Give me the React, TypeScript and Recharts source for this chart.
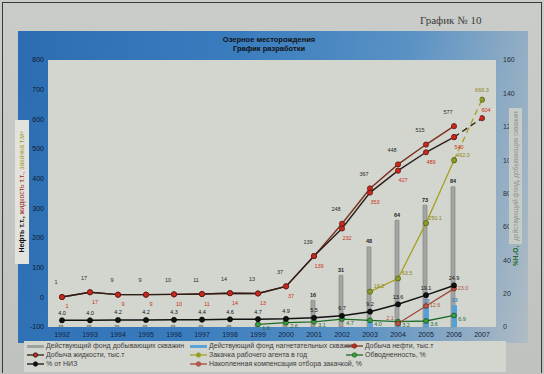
import {
  ComposedChart,
  Bar,
  Line,
  XAxis,
  YAxis,
  CartesianGrid,
  LabelList,
} from "recharts"

const years = ["1992", "1993", "1994", "1995", "1996", "1997", "1998", "1999", "2000", "2001", "2002", "2003", "2004", "2005", "2006", "2007"]
const prodWells = [1, 1, 1, 1, 1, 1, 1, 2, 4, 16, 31, 48, 64, 73, 84, null]
const injWells = [null, null, null, null, null, null, null, null, null, null, null, 3, 4, 12, 13, null]
const liquid = [1, 17, 9, 9, 10, 11, 14, 13, 37, 139, 248, 367, 448, 515, 577, null]
const oil = [1, 17, 9, 9, 10, 11, 14, 13, 37, 139, 232, 353, 427, 489, 540, null]
const oilPlan = [null, null, null, null, null, null, null, null, null, null, null, null, null, null, 540, 604]
const injection = [null, null, null, null, null, null, null, null, null, null, null, 19.2, 63.5, 250.1, 462.0, null]
const injectionPlan = [null, null, null, null, null, null, null, null, null, null, null, null, null, null, 462.0, 666.3]
const waterCut = [null, null, null, null, null, null, null, 1.6, 2.6, 3.1, 4.7, 4.0, 3.2, 3.6, 6.9, null]
const recovery = [4.0, 4.0, 4.2, 4.2, 4.3, 4.4, 4.6, 4.7, 4.9, 5.5, 6.7, 9.2, 13.6, 19.1, 24.9, null]
const compensation = [null, null, null, null, null, null, null, null, null, null, null, null, 2.1, 12.6, 23.0, null]

const leftTicks = [-100, 0, 100, 200, 300, 400, 500, 600, 700, 800]
const rightTicks = [0, 20, 40, 60, 80, 100, 120, 140, 160]

const data = years.map((year, i) => ({
  year,
  prodWells: prodWells[i],
  injWells: injWells[i],
  liquid: liquid[i],
  oil: oil[i],
  oilPlan: oilPlan[i],
  injection: injection[i],
  injectionPlan: injectionPlan[i],
  waterCut: waterCut[i],
  recovery: recovery[i],
  compensation: compensation[i],
}))

const font = "'Liberation Sans', Arial, sans-serif"

// small text label next to a point
function pointLabel(color: string, dx: number, dy: number, digits?: number, bold?: boolean) {
  return (p: any) => {
    if (p.value == null) return null
    const v = digits != null ? Number(p.value).toFixed(digits) : p.value
    return (
      <text x={p.x + dx} y={p.y + dy} fill={color} fontSize={5.5} fontFamily={font}
        fontWeight={bold ? "bold" : "normal"} textAnchor="middle" dominantBaseline="middle">
        {v}
      </text>
    )
  }
}

function barLabel(color: string, min: number) {
  return (p: any) => {
    if (p.value == null || p.value < min) return null
    return (
      <text x={p.x + p.width / 2} y={p.y - 5} fill={color} fontSize={5.5} fontFamily={font}
        fontWeight="bold" textAnchor="middle" dominantBaseline="middle">
        {p.value}
      </text>
    )
  }
}

function LegendLine({ color, dot }: { color: string; dot: string }) {
  return (
    <svg width={17} height={6} style={{ display: "inline-block", verticalAlign: "middle" }}>
      <line x1={0} y1={3} x2={17} y2={3} stroke={color} strokeWidth={1.3} />
      <circle cx={8.5} cy={3} r={2.2} fill={dot} stroke={color} strokeWidth={0.8} />
    </svg>
  )
}

function LegendBar({ color }: { color: string }) {
  return (
    <span style={{ display: "inline-block", width: 17, height: 3, background: color, verticalAlign: "middle" }} />
  )
}

const legendRows = [
  [
    { x: 27, y: 346, text: "Действующий фонд добывающих скважин", icon: <LegendBar color="#9ea29e" /> },
    { x: 190, y: 346, text: "Действующий фонд нагнетательных скважин", icon: <LegendBar color="#5aa2d8" /> },
    { x: 346, y: 346, text: "Добыча нефти, тыс.т", icon: <LegendLine color="#7a3020" dot="#c8281e" /> },
  ],
  [
    { x: 27, y: 355, text: "Добыча жидкости, тыс.т", icon: <LegendLine color="#2a1e18" dot="#c8281e" /> },
    { x: 190, y: 355, text: "Закачка рабочего агента в год", icon: <LegendLine color="#a8a020" dot="#8a9a30" /> },
    { x: 346, y: 355, text: "Обводненность, %", icon: <LegendLine color="#1f6a2a" dot="#3aa040" /> },
  ],
  [
    { x: 27, y: 364, text: "% от НИЗ", icon: <LegendLine color="#111" dot="#111" /> },
    { x: 190, y: 364, text: "Накопленная компенсация отбора закачкой, %", icon: <LegendLine color="#a04838" dot="#c05848" /> },
  ],
]

export default function App() {
  return (
    <div style={{ position: "absolute", left: 0, top: 0, width: 544, height: 374, overflow: "hidden", background: "linear-gradient(180deg, #c9ccc8, #bfc3bf)", fontFamily: font }}>
      <div style={{ position: "absolute", left: 2, top: 2, right: 2, bottom: 1, border: "1px solid #3a3a3a", borderBottom: "none" }} />
      <div style={{ position: "absolute", left: 420, top: 14, fontFamily: "'Liberation Serif', serif", fontSize: 11, color: "#3a3a3a" }}>
        График № 10
      </div>

      {/* blue panel */}
      <div style={{ position: "absolute", left: 18, top: 31, width: 510, height: 312, background: "linear-gradient(100deg, #2c6db2 0%, #3a7dbf 40%, #5a92c4 70%, #98b0c4 92%, #b0bcc4 100%)" }} />

      <div style={{ position: "absolute", left: 0, width: 544, top: 35, textAlign: "center", fontSize: 7.5, fontWeight: "bold", color: "#111", lineHeight: "9px" }}>
        <div style={{ marginLeft: -6 }}>Озерное месторождения</div>
        <div style={{ marginLeft: -6 }}>График разработки</div>
      </div>

      <div style={{ position: "absolute", left: 0, top: 0 }}>
        <ComposedChart width={544} height={374} data={data} margin={{ top: 60, right: 0, bottom: 33, left: 0 }} barGap={-3}>
          <CartesianGrid fill="#d3d6cf" stroke="none" />
          <XAxis dataKey="year" interval={0} axisLine={false} tickLine={false} tickSize={0} tickMargin={5} height={14}
            tick={{ fontSize: 7, fill: "#14223a", fontFamily: font }} />
          <YAxis yAxisId="left" domain={[-100, 800]} ticks={leftTicks} width={48} axisLine={false} tickLine={false}
            tickSize={0} tickMargin={4} tick={{ fontSize: 7, fill: "#0e1a2e", fontFamily: font }} />
          <YAxis yAxisId="right" orientation="right" domain={[0, 160]} ticks={rightTicks} width={48} axisLine={false}
            tickLine={false} tickSize={0} tickMargin={7} tick={{ fontSize: 7, fill: "#2a3038", fontFamily: font }} />

          <Bar yAxisId="right" dataKey="prodWells" barSize={4} fill="#a2a6a2" stroke="#7e827e" strokeWidth={0.6} isAnimationActive={false}>
            <LabelList dataKey="prodWells" content={barLabel("#222", 10)} />
          </Bar>
          <Bar yAxisId="right" dataKey="injWells" barSize={5} fill="#55a0da" isAnimationActive={false}>
            <LabelList dataKey="injWells" content={barLabel("#3f86c4", 10)} />
          </Bar>

          <Line yAxisId="left" dataKey="liquid" stroke="#7a3020" strokeWidth={1.4}
            dot={{ r: 2.6, fill: "#c8281e", stroke: "#5a1a14", strokeWidth: 0.8 }} isAnimationActive={false}>
            <LabelList dataKey="liquid" content={pointLabel("#2a2a2a", -6, -14)} />
          </Line>
          <Line yAxisId="left" dataKey="oil" stroke="#2a1e18" strokeWidth={1.4}
            dot={{ r: 2.6, fill: "#c8281e", stroke: "#5a1a14", strokeWidth: 0.8 }} isAnimationActive={false}>
            <LabelList dataKey="oil" content={pointLabel("#c83020", 5, 10)} />
          </Line>
          <Line yAxisId="left" dataKey="oilPlan" stroke="#2a1e18" strokeWidth={1.4} strokeDasharray="6 4"
            dot={{ r: 2.6, fill: "#c8281e", stroke: "#5a1a14", strokeWidth: 0.8 }} isAnimationActive={false}>
            <LabelList dataKey="oilPlan" content={(p: any) => (p.index === 15 ? pointLabel("#c83020", 4, -8)(p) : null)} />
          </Line>
          <Line yAxisId="left" dataKey="injection" stroke="#a8a020" strokeWidth={1.3}
            dot={{ r: 2.6, fill: "#8a9a30", stroke: "#5c6418", strokeWidth: 0.8 }} isAnimationActive={false}>
            <LabelList dataKey="injection" content={pointLabel("#8a8418", 9, -5, 1)} />
          </Line>
          <Line yAxisId="left" dataKey="injectionPlan" stroke="#a8a020" strokeWidth={1.3} strokeDasharray="6 4"
            dot={{ r: 2.6, fill: "#8a9a30", stroke: "#5c6418", strokeWidth: 0.8 }} isAnimationActive={false}>
            <LabelList dataKey="injectionPlan" content={(p: any) => (p.index === 15 ? pointLabel("#8a8418", 0, -9, 1)(p) : null)} />
          </Line>
          <Line yAxisId="right" dataKey="waterCut" stroke="#1f6a2a" strokeWidth={1.3}
            dot={{ r: 2.4, fill: "#3aa040", stroke: "#1a5020", strokeWidth: 0.8 }} isAnimationActive={false}>
            <LabelList dataKey="waterCut" content={pointLabel("#2a6a30", 8, 4, 1)} />
          </Line>
          <Line yAxisId="right" dataKey="compensation" stroke="#a04838" strokeWidth={1.3}
            dot={{ r: 2.4, fill: "#c05848", stroke: "#6a2418", strokeWidth: 0.8 }} isAnimationActive={false}>
            <LabelList dataKey="compensation" content={(p: any) =>
              p.index === 12 ? pointLabel("#b05040", -8, -5, 1)(p) : pointLabel("#b05040", 9, 0, 1)(p)} />
          </Line>
          <Line yAxisId="right" dataKey="recovery" stroke="#111" strokeWidth={1.5}
            dot={{ r: 2.6, fill: "#111", stroke: "#000", strokeWidth: 0.6 }} isAnimationActive={false}>
            <LabelList dataKey="recovery" content={pointLabel("#111", 0, -7, 1)} />
          </Line>
        </ComposedChart>
      </div>

      {/* left axis title */}
      <div style={{ position: "absolute", left: 22 - 72, top: 192 - 7, width: 144, height: 14, transform: "rotate(-90deg)", background: "#e2e3dc", fontSize: 7, lineHeight: "14px", textAlign: "center", whiteSpace: "nowrap" }}>
        <span style={{ color: "#111", fontWeight: "bold" }}>Нефть т.т., </span>
        <span style={{ color: "#9a2418" }}>жидкость т.т., </span>
        <span style={{ color: "#a09a20" }}>закачка т.м³</span>
      </div>

      {/* right axis title */}
      <div style={{ position: "absolute", left: 516 - 76, top: 190 - 7, width: 152, height: 14, transform: "rotate(-90deg)", fontSize: 6.5, lineHeight: "14px", whiteSpace: "nowrap" }}>
        <span style={{ color: "#1e6a24", fontWeight: "bold", paddingRight: 2 }}>%H₂O,</span>
        <span style={{ background: "#c8ccc6", color: "#8a9094", padding: "3px 3px" }}>действующий фонд, добывающих скважин</span>
      </div>

      {/* legend */}
      <div style={{ position: "absolute", left: 24, top: 341, width: 482, height: 31, background: "#d3d5cf" }} />
      {legendRows.flat().map((item) => (
        <div key={item.text} style={{ position: "absolute", left: item.x, top: item.y - 5, height: 10, lineHeight: "10px", fontSize: 7, color: "#3c3c3c", whiteSpace: "nowrap" }}>
          {item.icon}
          <span style={{ marginLeft: 2, verticalAlign: "middle" }}>{item.text}</span>
        </div>
      ))}
    </div>
  )
}
